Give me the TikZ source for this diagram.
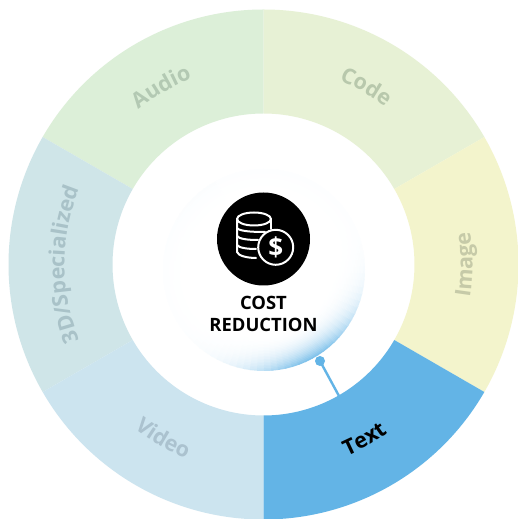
\documentclass[tikz,border=0pt]{standalone}
\usepackage{fontspec}
\setmainfont{Open Sans}
\usetikzlibrary{decorations.text}
\definecolor{wAudio}{HTML}{DCEFD8}
\definecolor{wCode}{HTML}{E7F1D5}
\definecolor{wImage}{HTML}{F3F4CC}
\definecolor{wThreeD}{HTML}{CFE5E8}
\definecolor{wVideo}{HTML}{CCE4EF}
\definecolor{wText}{HTML}{63B4E6}
\definecolor{tAudio}{HTML}{B3C9B3}
\definecolor{tCode}{HTML}{B8C8AC}
\definecolor{tImage}{HTML}{C6CAA8}
\definecolor{tThreeD}{HTML}{A9C2C8}
\definecolor{tVideo}{HTML}{ABC2CF}
\newcommand{\ringwedge}[3]{%
  \fill[#3] (#1:255) arc[start angle=#1,end angle=#2,radius=255] -- (#2:151) arc[start angle=#2,end angle=#1,radius=151] -- cycle;}
\newcommand{\curvelabel}[5]{% start, end, radius, colour, text
  \path[decorate,decoration={text along path,text align=center,
    text={|\fontsize{21.5}{21.5}\selectfont\bfseries\color{#4}|#5}}]
    (#1:#3) arc[start angle=#1,end angle=#2,radius=#3];}
\tikzset{
  coinline/.style={draw=white,line width=2pt,line cap=round,line join=round},
  captiontext/.style={font=\fontsize{18.4}{22.5}\selectfont\bfseries,align=center,text=black}
}
\begin{document}
\begin{tikzpicture}[x=1pt,y=1pt]
\useasboundingbox (0,0) rectangle (518,519);
\fill[white] (0,0) rectangle (518,519);
\begin{scope}[shift={(263.5,254.5)}]
  \ringwedge{90}{150}{wAudio}
  \ringwedge{30}{90}{wCode}
  \ringwedge{-30}{30}{wImage}
  \ringwedge{150}{210}{wThreeD}
  \ringwedge{-150}{-90}{wVideo}
  \ringwedge{-90}{-30}{wText}
  \curvelabel{150}{90}{199}{tAudio}{Audio}
  \curvelabel{90}{30}{199}{tCode}{Code}
  \curvelabel{-30}{30}{209}{tImage}{Image}
  \curvelabel{210}{150}{199}{tThreeD}{3D/Specialized}
  \curvelabel{-150}{-90}{209}{tVideo}{Video}
  \curvelabel{-90}{-30}{209}{black}{Text}
\end{scope}
% soft halo
\begin{scope}[shift={(264,249)}]
  \foreach \r in {100,98.5,...,62}{
    \foreach \a in {-242,-238,...,116}{
      \pgfmathsetmacro{\gv}{max(0,(\r-62)/38)^2.6}
      \pgfmathsetmacro{\av}{0.012+0.012*exp(-((\a+240)/45)^2)+0.8*exp(-((\a+63)/35)^2)}
      \pgfmathsetmacro{\pv}{100*\gv*\av}
      \pgfmathsetmacro{\ae}{\a+5}
      \draw[color=wText!\pv!white,line width=2pt] (\a:\r) arc[start angle=\a,end angle=\ae,radius=\r];
    }
  }
\end{scope}
% connector
\coordinate (dotc) at (320,158);
\coordinate (wedgeedge) at (339,123);
\node[circle,fill=wText,minimum size=10pt,inner sep=0pt] (dot) at (dotc) {};
\draw[wText,line width=2.4pt] (dot.center) -- (wedgeedge);
% icon
\node[circle,fill=black,minimum size=93pt,inner sep=0pt] (badge) at (263.5,280) {};
\begin{scope}
  \draw[coinline] (237,300) -- (237,267) .. controls (238,263) and (248,261) .. (256,261);
  \draw[coinline] (254,300) ellipse[x radius=17,y radius=6.5];
  \draw[coinline] (237,291) .. controls (239,288) and (250,287) .. (265,287);
  \draw[coinline] (237,283) .. controls (239,280) and (248,279) .. (258,279);
  \draw[coinline] (237,274) .. controls (239,271) and (248,270) .. (256,270);
  \draw[coinline] (271,300) -- (271,290);
  \node[circle,draw=white,line width=2pt,fill=black,minimum size=35pt,inner sep=0pt,text=white,font=\fontsize{26}{26}\selectfont\bfseries] (dollar) at (275.7,271.7) {\$};
\end{scope}
\node[captiontext] (caption) at (263.5,205) {COST\\REDUCTION};
\end{tikzpicture}
\end{document}
